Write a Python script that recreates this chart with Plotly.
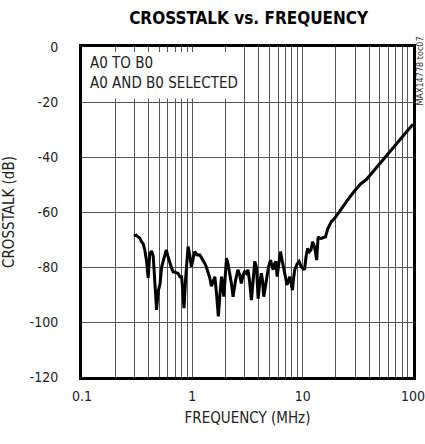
import plotly.graph_objects as go

# Data (frequency in MHz, crosstalk in dB)
freq_mhz = [0.295, 0.31, 0.323, 0.335, 0.346, 0.358, 0.371, 0.385, 0.398, 0.412, 0.427,
            0.442, 0.458, 0.474, 0.49, 0.51, 0.527, 0.545, 0.562, 0.58, 0.60, 0.625,
            0.65, 0.67, 0.70, 0.74, 0.77, 0.80, 0.82, 0.84, 0.87, 0.915, 0.95, 0.98,
            1.05, 1.11, 1.17, 1.23, 1.29, 1.34, 1.39, 1.44, 1.49, 1.55, 1.60, 1.66,
            1.72, 1.78, 1.84, 1.93, 2.04, 2.11, 2.18, 2.26, 2.34, 2.46, 2.59, 2.69,
            2.78, 2.88, 2.98, 3.09, 3.19, 3.30, 3.43, 3.55, 3.68, 3.81, 3.95, 4.08,
            4.22, 4.33, 4.44, 4.56, 4.69, 4.9, 5.11, 5.25, 5.40, 5.55, 5.71, 5.87,
            6.08, 6.29, 6.47, 6.65, 6.93, 7.22, 7.43, 7.64, 7.86, 8.08, 8.28, 8.48,
            8.88, 9.28, 9.75, 10.1, 10.4, 10.75, 11.1, 11.5, 11.9, 12.3, 12.8, 13.1,
            13.4, 13.8, 14.2, 14.7, 15.4, 16.1, 16.9, 17.5, 18.2, 19.5, 20.9, 22.8,
            24.9, 26.5, 30.0, 33.5, 37.8, 45.0, 52.0, 60.0, 70.0, 80.0, 90.0, 100.0]
crosstalk_db = [-68.7, -68.4, -69.0, -69.6, -70.8, -71.5, -73.8, -78.0, -84.0, -75.0, -74.2,
                -76.0, -86.0, -95.6, -89.0, -86.0, -80.0, -77.5, -75.0, -73.8, -76.0, -78.5,
                -80.5, -81.7, -82.0, -82.3, -83.5, -83.5, -89.0, -95.0, -84.0, -72.6, -76.0, -80.0,
                -74.4, -75.6, -75.6, -77.0, -78.5, -80.0, -81.7, -84.0, -87.0, -85.0, -83.5, -90.0,
                -98.0, -90.0, -83.5, -90.8, -76.8, -79.0, -82.0, -86.0, -90.8, -85.0, -81.0, -83.0,
                -86.0, -83.0, -81.7, -82.3, -81.0, -85.0, -92.0, -85.0, -78.0, -80.0, -91.5, -86.0,
                -82.3, -85.0, -90.8, -88.0, -84.7, -80.0, -77.5, -79.0, -81.0, -79.0, -78.0, -83.5,
                -79.0, -74.4, -77.0, -80.0, -83.0, -86.5, -85.0, -83.5, -86.0, -88.4, -84.0, -81.0,
                -79.0, -78.0, -80.0, -80.5, -81.0, -76.0, -73.2, -74.5, -73.8, -70.8, -72.6, -75.0,
                -77.5, -69.0, -69.5, -69.6, -69.3, -69.0, -66.0, -65.0, -63.5, -62.3, -60.5, -58.5,
                -56.0, -54.8, -52.0, -49.8, -48.2, -44.6, -41.6, -38.6, -35.4, -32.7, -30.3, -28.1]

x_tick_vals = [0.1, 0.2, 0.3, 0.4, 0.5, 0.6, 0.7, 0.8, 0.9,
               1, 2, 3, 4, 5, 6, 7, 8, 9,
               10, 20, 30, 40, 50, 60, 70, 80, 90, 100]
x_tick_text = ["0.1", "", "", "", "", "", "", "", "",
               "1", "", "", "", "", "", "", "", "",
               "10", "", "", "", "", "", "", "", "", "100"]
y_tick_vals = [0, -20, -40, -60, -80, -100, -120]
y_tick_text = ["0", "-20", "-40", "-60", "-80", "-100", "-120"]

FONT = "DejaVu Sans Condensed, Liberation Sans Narrow, sans-serif"
GRID = "#555555"

fig = go.Figure()
fig.add_trace(go.Scatter(
    x=freq_mhz, y=crosstalk_db, mode="lines",
    line=dict(color="black", width=3), showlegend=False, hoverinfo="skip"))

fig.update_layout(
    width=425, height=444,
    margin=dict(l=82, r=12, t=47, b=67, autoexpand=False),
    paper_bgcolor="white", plot_bgcolor="white",
    font=dict(family=FONT, size=14, color="#222222"),
    title=dict(text="<b>CROSSTALK vs. FREQUENCY</b>",
               font=dict(family=FONT, size=17, color="black"),
               x=0.585, xanchor="center", y=0.96, yanchor="middle"),
    xaxis=dict(type="log", range=[-1, 2], tickvals=x_tick_vals, ticktext=x_tick_text,
               showgrid=True, gridcolor=GRID, gridwidth=1, ticks="",
               showline=True, linecolor="black", linewidth=3, mirror="all",
               zeroline=False, ticklabelstandoff=4, ticklabeloverflow="allow",
               title=dict(text="FREQUENCY (MHz)", font=dict(size=15), standoff=10)),
    yaxis=dict(range=[-120, 0], tickvals=y_tick_vals, ticktext=y_tick_text,
               showgrid=True, gridcolor=GRID, gridwidth=1, ticks="",
               showline=True, linecolor="black", linewidth=3, mirror="all",
               zeroline=False, ticklabelstandoff=18, ticklabeloverflow="allow",
               title=dict(text="CROSSTALK (dB)", font=dict(size=15), standoff=16)),
)

# white box behind the in-plot label
fig.add_shape(type="rect", xref="x", yref="y", x0=0.1, x1=2.75, y0=-18.7, y1=-1.8,
              fillcolor="white", line=dict(width=0), layer="above")
fig.add_annotation(text="A0 TO B0<br>A0 AND B0 SELECTED", xref="paper", yref="paper",
                   x=0.018, y=0.985, xanchor="left", yanchor="top", align="left",
                   showarrow=False, font=dict(family=FONT, size=15, color="#222222"))
fig.add_annotation(text="MAX14778 toc07", xref="paper", yref="paper",
                   x=1.0, y=1.036, xanchor="left", yanchor="top", xshift=0, textangle=-90,
                   showarrow=False, font=dict(family=FONT, size=9, color="#333333"))

fig.write_html("out.html", config={"displayModeBar": False},
               post_script="document.body.style.margin='0';")
